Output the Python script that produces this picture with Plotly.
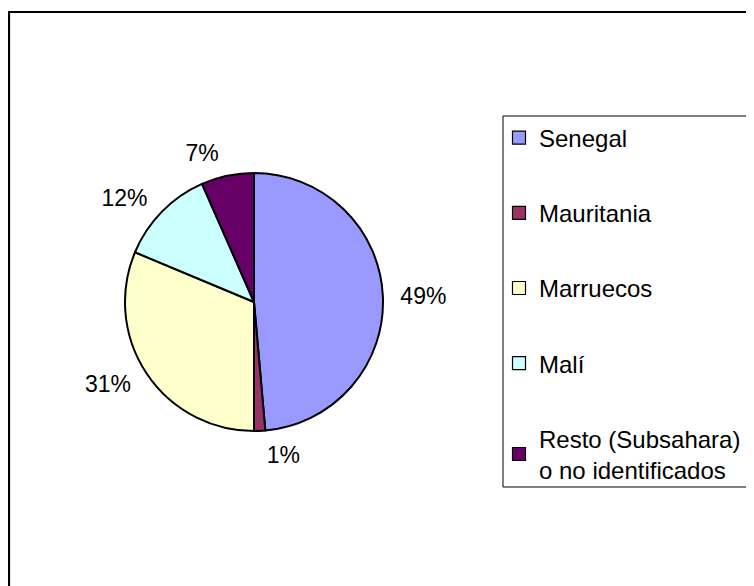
import plotly.graph_objects as go

countries = ["Senegal", "Mauritania", "Marruecos", "Malí", "Resto (Subsahara) o no identificados"]
legend_labels = ["Senegal", "Mauritania", "Marruecos", "Malí", "Resto (Subsahara)<br>o no identificados"]
shares = [48.6, 1.4, 31.3, 12.1, 6.6]
colors = ["#9999FF", "#993366", "#FFFFCC", "#CCFFFF", "#660066"]

W, H = 754, 586
OFF = 8  # default page body margin: convert page pixels to figure pixels
FONT = "Liberation Sans, Arial, sans-serif"


def px_x(v):
    return (v - OFF) / W


def px_y(v):
    return 1 - (v - OFF) / H


fig = go.Figure()

# pie centre ~ (254, 302) page px, radius ~129 px
cx, cy, r = 254, 302, 129
fig.add_trace(go.Pie(
    labels=countries,
    values=shares,
    sort=False,
    direction="clockwise",
    rotation=0,
    marker=dict(colors=colors, line=dict(color="black", width=2)),
    textinfo="none",
    showlegend=False,
    hoverinfo="label+percent",
    domain=dict(x=[px_x(cx - r), px_x(cx + r)], y=[px_y(cy + r), px_y(cy - r)]),
))

# transparent, slightly larger copy carrying the outside percentage labels
r2 = r + 11
fig.add_trace(go.Pie(
    labels=countries,
    values=shares,
    sort=False,
    direction="clockwise",
    rotation=0,
    marker=dict(colors=["rgba(0,0,0,0)"] * len(colors), line=dict(width=0)),
    textposition="outside",
    texttemplate="%{percent:.0%}",
    textfont=dict(family=FONT, size=23, color="black"),
    showlegend=False,
    hoverinfo="skip",
    domain=dict(x=[px_x(cx - r2), px_x(cx + r2)], y=[px_y(cy + r2), px_y(cy - r2)]),
))

for lab, col in zip(legend_labels, colors):
    fig.add_trace(go.Scatter(
        x=[None], y=[None], mode="markers", name=lab, legendgroup=lab,
        marker=dict(symbol="square", size=13, color=col, line=dict(color="black", width=1.2)),
    ))

fig.update_layout(
    width=W, height=H,
    margin=dict(l=0, r=0, t=0, b=0),
    paper_bgcolor="white", plot_bgcolor="white",
    xaxis=dict(visible=False), yaxis=dict(visible=False),
    legend=dict(
        x=px_x(499), y=px_y(115.5), xanchor="left", yanchor="top",
        font=dict(family=FONT, size=24, color="black"),
        tracegroupgap=41, itemwidth=30, borderwidth=0, bgcolor="rgba(0,0,0,0)",
        itemclick=False, itemdoubleclick=False,
    ),
    shapes=[
        dict(type="rect", xref="paper", yref="paper",
             x0=px_x(9), x1=1.02, y0=-0.02, y1=px_y(12),
             line=dict(color="black", width=2.2), fillcolor="rgba(0,0,0,0)"),
        dict(type="rect", xref="paper", yref="paper",
             x0=px_x(503), x1=1.02, y0=px_y(487), y1=px_y(116),
             line=dict(color="black", width=1), fillcolor="rgba(0,0,0,0)"),
    ],
)

fig.write_html("out.html")
